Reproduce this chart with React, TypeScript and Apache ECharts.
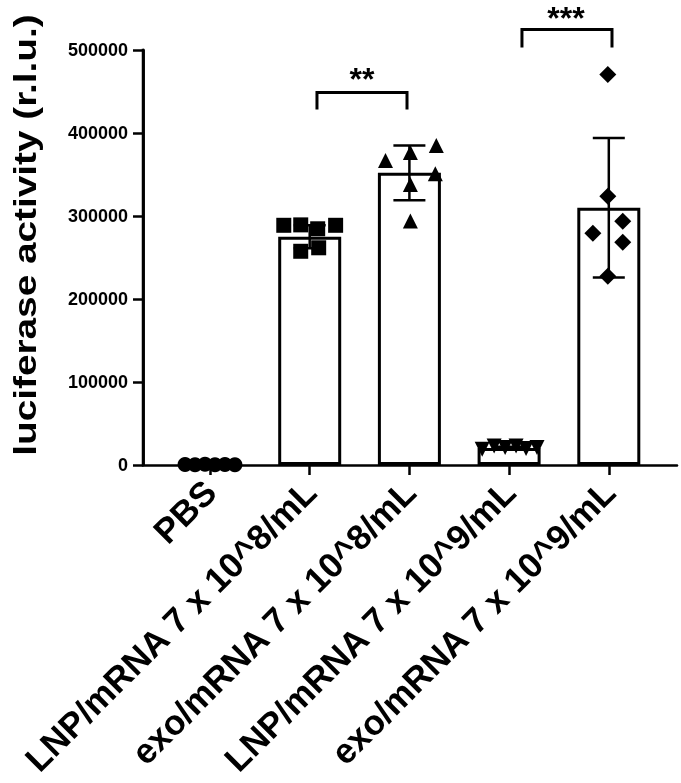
import React, { useEffect, useRef } from "react";
import * as echarts from "echarts";

const categories = [
  "PBS",
  "LNP/mRNA 7 x 10^8/mL",
  "exo/mRNA 7 x 10^8/mL",
  "LNP/mRNA 7 x 10^9/mL",
  "exo/mRNA 7 x 10^9/mL",
];
const yTicks = [0, 100000, 200000, 300000, 400000, 500000];
const means = [0, 275000, 352000, 20500, 310000];
const sds = [0, 14000, 33000, 1600, 84000];

const pointValues = [
  [600, 300, 800, 200, 500, 400],
  [288800, 289300, 284600, 288800, 257500, 261700],
  [367000, 376600, 385000, 350800, 338000, 294000],
  [19000, 23000, 21000, 23000, 20000, 21000],
  [470500, 323700, 293600, 279200, 268300, 227400],
];
const pointJitter = [
  [-0.25, -0.15, -0.05, 0.05, 0.15, 0.25],
  [-0.26, -0.09, 0.08, 0.26, -0.09, 0.09],
  [-0.24, 0.01, 0.27, 0.26, 0.01, 0.01],
  [-0.27, -0.15, -0.04, 0.07, 0.17, 0.28],
  [-0.01, -0.01, 0.14, -0.16, 0.14, -0.01],
];
const pointSymbols = ["circle", "rect", "triangle", "triangle", "diamond"];
const pointRotate = [0, 0, 0, 180, 0];
const pointSize = [15, 15, 15, 15, 17];

// significance annotations (x in category units, y in r.l.u.)
const bracketLeft = [1.073, 3.129];
const bracketRight = [1.976, 4.032];
const bracketTop = [448900, 524700];
const bracketLeg = [428400, 503000];
const starText = ["**", "***"];
const starX = [1.525, 3.571];
const starY = [470500, 545000];

// gap between the y axis and the first category centre, in category widths
const X_SHIFT = 0.672;
const X_MAX = 5.356;
const Y_MAX = 500000;

export default function App() {
  const ref = useRef<HTMLDivElement>(null);
  useEffect(() => {
    if (!ref.current) return;
    const chart = echarts.init(ref.current, null, { renderer: "svg" });
    const black = "#000";
    const font = '"Liberation Sans", Arial, sans-serif';
    const tickPos = categories.map((_, i) => i + X_SHIFT);

    const scatterSeries = pointValues.map((vals, g) => ({
      type: "scatter",
      symbol: pointSymbols[g],
      symbolRotate: pointRotate[g],
      symbolSize: pointSize[g],
      itemStyle: { color: black, opacity: 1 },
      z: 4,
      data: vals.map((v, i) => [g + X_SHIFT + pointJitter[g][i], v]),
    }));

    chart.setOption({
      animation: false,
      grid: { left: 143, right: 4, top: 50, bottom: 318 },
      xAxis: {
        type: "value",
        min: 0,
        max: X_MAX,
        splitLine: { show: false },
        axisLine: { show: true, lineStyle: { color: black, width: 2.5 } },
        axisTick: { show: true, customValues: tickPos, length: 10, lineStyle: { color: black, width: 2.5 } },
        axisLabel: {
          customValues: tickPos,
          rotate: 45,
          margin: 21,
          formatter: (v: number) => categories[Math.round(v - X_SHIFT)] ?? "",
          fontSize: 35,
          fontWeight: "bold",
          fontFamily: font,
          color: black,
        },
      },
      yAxis: {
        type: "value",
        min: 0,
        max: Y_MAX,
        interval: 100000,
        splitLine: { show: false },
        axisLine: { show: true, lineStyle: { color: black, width: 2.5 } },
        axisTick: { show: true, length: 10, lineStyle: { color: black, width: 2.5 } },
        axisLabel: {
          margin: 15,
          fontSize: 18,
          fontWeight: "bold",
          fontFamily: font,
          color: black,
          formatter: (v: number) => (yTicks.includes(v) ? String(v) : ""),
        },
      },
      graphic: [
        {
          type: "text",
          x: 25,
          y: 235,
          rotation: Math.PI / 2,
          scaleX: 1.25,
          style: {
            text: "luciferase activity (r.l.u.)",
            font: `bold 31px ${font}`,
            fill: black,
            align: "center",
            verticalAlign: "middle",
          },
        },
      ],
      series: [
        {
          type: "bar",
          barWidth: 63,
          z: 2,
          itemStyle: { color: "#fff", borderColor: black, borderWidth: 3 },
          data: means.map((m, i) => [i + X_SHIFT, m]),
          markLine: {
            silent: true,
            symbol: "none",
            label: { show: false },
            lineStyle: { color: black, width: 2.5, type: "solid" },
            data: [[{ coord: [0, 0] }, { coord: [0, Y_MAX] }]],
          },
        },
        {
          type: "custom",
          z: 3,
          renderItem: (params: any, api: any) => {
            const x = api.value(0);
            const m = api.value(1);
            const s = api.value(2);
            const top = api.coord([x, m + s]);
            const bot = api.coord([x, m - s]);
            const half = 16;
            const st = { stroke: black, lineWidth: 2.5 };
            return {
              type: "group",
              children: [
                { type: "line", shape: { x1: top[0], y1: top[1], x2: bot[0], y2: bot[1] }, style: st },
                { type: "line", shape: { x1: top[0] - half, y1: top[1], x2: top[0] + half, y2: top[1] }, style: st },
                { type: "line", shape: { x1: bot[0] - half, y1: bot[1], x2: bot[0] + half, y2: bot[1] }, style: st },
              ],
            };
          },
          data: means.map((m, i) => [i + X_SHIFT, m, sds[i]]),
        },
        ...scatterSeries,
        {
          // vertical axis line, drawn through the chart's own scales
          type: "custom",
          z: 100,
          clip: false,
          silent: true,
          renderItem: (params: any, api: any) => {
            const a = api.coord([0, 0]);
            const b = api.coord([0, Y_MAX]);
            return {
              type: "rect",
              shape: { x: a[0] - 1.25, y: b[1] - 1.25, width: 2.5, height: a[1] - b[1] + 2.5 },
              style: { fill: black },
            };
          },
          data: [[0, 0]],
        },
        {
          type: "custom",
          z: 5,
          clip: false,
          renderItem: (params: any, api: any) => {
            const i = params.dataIndex;
            const p1 = api.coord([bracketLeft[i] + X_SHIFT, bracketLeg[i]]);
            const p2 = api.coord([bracketLeft[i] + X_SHIFT, bracketTop[i]]);
            const p3 = api.coord([bracketRight[i] + X_SHIFT, bracketTop[i]]);
            const p4 = api.coord([bracketRight[i] + X_SHIFT, bracketLeg[i]]);
            const sp = api.coord([starX[i] + X_SHIFT, starY[i]]);
            return {
              type: "group",
              children: [
                {
                  type: "polyline",
                  shape: { points: [p1, p2, p3, p4] },
                  style: { stroke: black, lineWidth: 3, fill: "none" },
                },
                {
                  type: "text",
                  style: {
                    text: starText[i],
                    x: sp[0],
                    y: sp[1] + 5,
                    align: "center",
                    verticalAlign: "middle",
                    font: `bold 32px ${font}`,
                    fill: black,
                  },
                },
              ],
            };
          },
          data: bracketLeft.map((x, i) => [x + X_SHIFT, bracketTop[i]]),
        },
      ],
    });
    return () => chart.dispose();
  }, []);
  return <div ref={ref} style={{ position: "fixed", left: 0, top: 0, width: 681, height: 783 }} />;
}
